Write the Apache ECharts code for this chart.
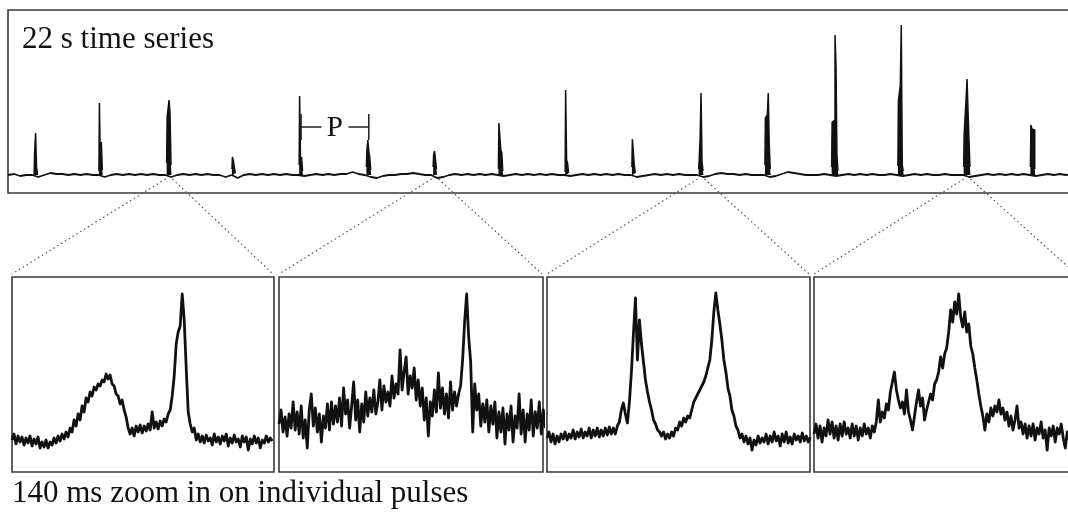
<!DOCTYPE html>
<html><head><meta charset="utf-8">
<script src="https://cdn.jsdelivr.net/npm/echarts@6/dist/echarts.min.js"></script>
<style>html,body{margin:0;padding:0;background:#fff;overflow:hidden}#c{width:1068px;height:512px}</style>
</head><body><div id="c"></div>
<script>
// ---------- DATA ----------
const topTitle = '22 s time series';
const bottomTitle = '140 ms zoom in on individual pulses';
const periodLabel = 'P';
const seriesDurationS = 22;
const zoomWindowMs = 140;

// 22 s trace: baseline amplitude sampled every 0.125 s (arbitrary units, 0 = off-pulse level)
const baselineStepS = 0.125;
const baseline = [
  0,1,-1,0,0,-2,0,2,1,1,
  0,1,0,1,0,0,-2,0,1,0,
  1,0,1,0,1,0,0,-2,0,1,
  0,1,0,1,0,0,-2,0,-3,0,
  1,0,1,0,1,0,1,0,0,-1,
  0,1,0,1,0,1,1,3,1,0,
  -2,-3,-1,0,0,1,1,2,1,0,
  0,-3,-2,0,1,0,1,0,1,0,
  1,0,-1,0,1,0,1,0,1,0,
  1,0,0,-1,0,1,0,1,0,1,
  0,1,0,0,-2,-1,0,1,0,1,
  0,1,0,0,0,-2,-1,1,2,1,
  1,0,1,0,0,0,-2,-1,1,3,
  2,1,0,0,0,1,0,-1,0,1,
  0,1,0,1,0,0,1,0,-1,0,
  1,0,1,0,0,1,0,0,0,-2,
  -1,0,1,0,1,0,1,0,1,0,
  -1,0,1,0,1,0,1
];
// pulse arrival times (s) and their sampled profiles (0.02 s per sample)
const pulseTimes = [0.58, 1.92, 3.33, 4.67, 6.06, 7.46, 8.83, 10.19, 11.56, 12.94, 14.33, 15.71, 17.10, 18.46, 19.83, 21.19];
const pulseSampleStepS = 0.02;
const pulseShapes = [
  [0, 22, 42, 8, 0],
  [4, 72, 12, 33, 5],
  [12, 58, 60, 75, 62, 10],
  [6, 18, 14, 8, 2],
  [10, 79, 8, 18, 4],
  [8, 24, 35, 24, 18, 5],
  [8, 20, 24, 22, 6],
  [6, 52, 50, 25, 22, 4],
  [3, 85, 15, 12, 2],
  [8, 36, 34, 10, 2],
  [6, 14, 36, 82, 14, 4],
  [10, 57, 57, 60, 82, 30, 6],
  [8, 53, 53, 55, 140, 111, 20, 4],
  [9, 74, 74, 90, 150, 10, 4],
  [8, 41, 41, 76, 96, 64, 64, 8],
  [8, 50, 46, 45, 45, 6]
];
const periodPulses = [4, 5];
const periodMarkLevel = 48;
const zoomPulseIndex = [2, 6, 10, 14];

// 140 ms zooms, sampled every 1.07 ms
const zoomStepMs = 1.07;
const zoom1 = [32,38,28,36,30,35,27,34,29,36,26,33,28,35,24,30,25,32,24,30,27,34,29,36,31,38,33,40,35,44,
  40,52,46,58,52,66,60,74,70,80,76,85,82,88,86,92,90,98,93,97,88,86,78,76,68,72,62,55,44,38,
  44,36,46,40,47,39,46,41,48,42,60,44,50,43,51,46,53,50,58,62,76,96,128,140,146,178,152,104,60,48,
  40,44,32,38,30,36,29,37,31,34,27,38,30,35,28,36,31,38,26,34,29,37,30,33,25,36,30,35,22,33,
  28,36,29,34,24,32,29,36,30,34,31];
const zoom2 = [48,62,40,55,36,58,44,70,42,60,38,66,34,52,24,62,78,46,64,40,58,30,56,44,68,42,70,48,66,50,
  74,46,84,58,72,44,66,90,52,72,40,68,50,80,56,74,60,82,58,70,92,62,86,70,80,66,96,74,88,78,
  122,82,100,115,78,96,84,104,72,92,66,84,52,74,36,70,56,82,60,99,64,84,58,78,54,90,62,80,66,78,
  86,112,150,178,135,110,40,88,62,78,46,68,50,72,40,66,48,70,34,60,40,64,28,58,42,66,30,56,44,78,
  38,62,30,58,42,72,36,60,44,70,38,62,44];
const zoom3 = [34,40,30,38,28,36,30,38,33,40,32,38,34,42,33,40,35,43,34,40,36,44,34,42,36,44,35,42,36,44,
  37,45,38,44,38,46,50,62,69,58,49,70,100,138,174,112,152,128,110,92,80,70,62,52,48,42,40,36,40,33,
  38,34,40,36,44,42,50,46,54,50,56,54,62,70,74,78,82,86,90,96,104,112,132,160,179,162,148,132,112,100,
  84,76,62,56,46,42,34,38,30,36,28,34,22,32,27,36,29,34,30,38,28,36,30,40,31,36,26,38,30,40,
  29,35,28,38,32,36,30,39,31,36,30,35];
const zoom4 = [38,48,34,46,30,44,36,52,38,50,34,46,32,48,36,50,38,44,34,48,36,46,32,44,36,48,38,44,34,46,
  40,50,72,50,60,54,68,62,80,90,100,82,72,64,70,58,82,60,52,42,56,70,82,66,74,52,62,70,78,72,
  88,92,100,115,104,118,124,140,162,150,170,158,178,155,145,160,140,148,126,118,104,92,78,66,56,42,58,50,64,56,
  66,60,72,58,64,52,60,46,56,42,52,66,44,50,38,48,34,46,36,48,32,44,38,50,34,42,22,44,36,46,
  30,44,38,48,34,24,40,32];
const zoomSeries = [zoom1, zoom2, zoom3, zoom4];

// ---------- LAYOUT ----------
const topGrid = {left: 8, top: 10, width: 1064, height: 183};
const panelGrids = [
  {left: 12, top: 277, width: 262, height: 195},
  {left: 279, top: 277, width: 264, height: 195},
  {left: 547, top: 277, width: 263, height: 195},
  {left: 814, top: 277, width: 263, height: 195}
];
const ink = '#111';
const serif = '"Liberation Serif", "DejaVu Serif", serif';

const grids = [topGrid, ...panelGrids].map(g => Object.assign({
  show: true, borderColor: '#3a3a3a', borderWidth: 1.6, backgroundColor: 'transparent',
  containLabel: false, outerBoundsMode: 'none'
}, g));
const xAxes = [{gridIndex: 0, type: 'value', min: 0, max: seriesDurationS, show: false}];
const yAxes = [{gridIndex: 0, type: 'value', min: -18, max: 165, show: false}];
panelGrids.forEach((g, i) => {
  xAxes.push({gridIndex: i + 1, type: 'value', min: 0, max: zoomWindowMs, show: false});
  yAxes.push({gridIndex: i + 1, type: 'value', min: 0, max: 195, show: false});
});

// baseline trace
const series = [{
  type: 'line', xAxisIndex: 0, yAxisIndex: 0, showSymbol: false, silent: true,
  data: baseline.map((v, k) => [k * baselineStepS, v]),
  lineStyle: {color: ink, width: 1.8}
}];
// one filled step series per pulse profile
pulseTimes.forEach((tp, i) => {
  const s = pulseShapes[i];
  const c = (s.length - 1) / 2;
  series.push({
    type: 'line', xAxisIndex: 0, yAxisIndex: 0, showSymbol: false, silent: true, step: 'middle',
    data: s.map((v, j) => [tp + (j - c) * pulseSampleStepS, v]),
    lineStyle: {color: ink, width: 1.5}, areaStyle: {color: ink, opacity: 1, origin: 'auto'}
  });
});
zoomSeries.forEach((arr, i) => {
  series.push({
    type: 'line', xAxisIndex: i + 1, yAxisIndex: i + 1, showSymbol: false, silent: true,
    data: arr.map((v, j) => [j * zoomStepMs, v]),
    lineStyle: {color: ink, width: 2.8, join: 'round'}
  });
});

const chart = echarts.init(document.getElementById('c'), null, {renderer: 'canvas'});
chart.setOption({animation: false, grid: grids, xAxis: xAxes, yAxis: yAxes, series: series});

// annotations derived from the data
const gfx = [];
const dot = {stroke: '#555', lineWidth: 1.2, lineDash: [1.5, 3]};
zoomPulseIndex.forEach((pi, n) => {
  const tp = pulseTimes[pi];
  const a = chart.convertToPixel({gridIndex: 0}, [tp - zoomWindowMs / 2000, -4]);
  const b = chart.convertToPixel({gridIndex: 0}, [tp + zoomWindowMs / 2000, -4]);
  const g = panelGrids[n];
  gfx.push({type: 'line', silent: true, shape: {x1: a[0], y1: a[1], x2: g.left, y2: g.top - 3}, style: dot});
  gfx.push({type: 'line', silent: true, shape: {x1: b[0], y1: b[1], x2: g.left + g.width - 1, y2: g.top - 3}, style: dot});
});
const p0 = chart.convertToPixel({gridIndex: 0}, [pulseTimes[periodPulses[0]], periodMarkLevel]);
const p1 = chart.convertToPixel({gridIndex: 0}, [pulseTimes[periodPulses[1]], periodMarkLevel]);
const mid = (p0[0] + p1[0]) / 2;
const bl = {stroke: ink, lineWidth: 1.4};
gfx.push({type: 'line', silent: true, shape: {x1: p0[0], y1: p0[1], x2: mid - 13.5, y2: p0[1]}, style: bl});
gfx.push({type: 'line', silent: true, shape: {x1: mid + 13.5, y1: p1[1], x2: p1[0], y2: p1[1]}, style: bl});
gfx.push({type: 'line', silent: true, shape: {x1: p0[0], y1: p0[1] - 13, x2: p0[0], y2: p0[1] + 13}, style: bl});
gfx.push({type: 'line', silent: true, shape: {x1: p1[0], y1: p1[1] - 13, x2: p1[0], y2: p1[1] + 13}, style: bl});
gfx.push({type: 'text', silent: true, style: {text: periodLabel, x: mid, y: p0[1] + 1, font: '29px ' + serif, fill: ink, align: 'center', verticalAlign: 'middle'}});
gfx.push({type: 'text', silent: true, style: {text: topTitle, x: 22, y: 40, font: '31px ' + serif, fill: ink, align: 'left', verticalAlign: 'middle'}});
gfx.push({type: 'text', silent: true, style: {text: bottomTitle, x: 12, y: 494, font: '31px ' + serif, fill: ink, align: 'left', verticalAlign: 'middle'}});
chart.setOption({graphic: gfx});
</script></body></html>
